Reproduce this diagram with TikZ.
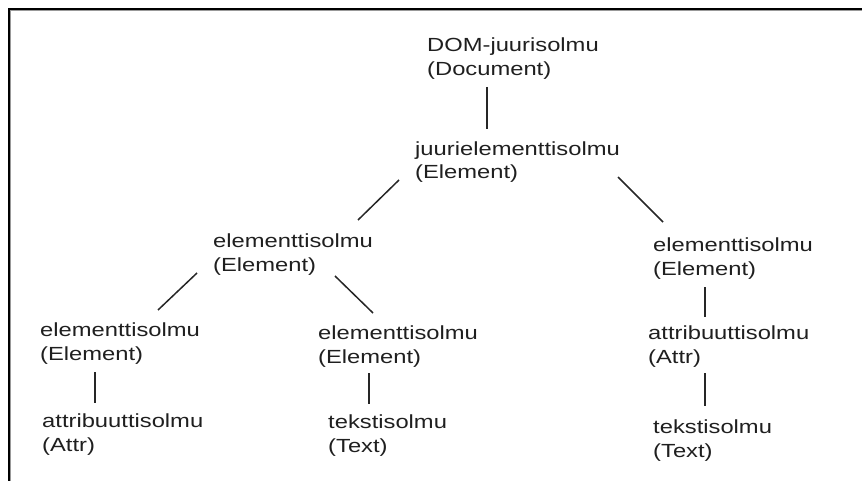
\documentclass[tikz,border=0pt]{standalone}
\usepackage{fontspec}
\setmainfont{Liberation Sans}[FakeStretch=1.25]
\begin{document}
\begin{tikzpicture}[x=1pt,y=-1pt,
  domnode/.style={anchor=base west, inner sep=0pt, align=left,
    font=\fontsize{19}{24}\selectfont, text=black!88},
  link/.style={line width=1.5pt, black!85}]
\useasboundingbox (0,0) rectangle (862,481);
% frame edges along the top and the left
\draw[black!40, line width=1pt] (10.5,481) -- (10.5,10.5) -- (862,10.5);
\draw[black, line width=2pt] (9,481) -- (9,9) -- (862,9);

% tree nodes (base west = left end of the last line's baseline)
\node[domnode] (dom)  at (427,76)  {DOM-juurisolmu\\(Document)};
\node[domnode] (root) at (415,179) {juurielementtisolmu\\(Element)};
\node[domnode] (elA)  at (213,271) {elementtisolmu\\(Element)};
\node[domnode] (elB)  at (653,275) {elementtisolmu\\(Element)};
\node[domnode] (elC)  at (40,360)  {elementtisolmu\\(Element)};
\node[domnode] (elD)  at (318,363) {elementtisolmu\\(Element)};
\node[domnode] (atB)  at (648,363) {attribuuttisolmu\\(Attr)};
\node[domnode] (atC)  at (42,451)  {attribuuttisolmu\\(Attr)};
\node[domnode] (txD)  at (328,452) {tekstisolmu\\(Text)};
\node[domnode] (txB)  at (653,457) {tekstisolmu\\(Text)};

% parent-child links
\draw[link] ([shift={(60,11)}]dom.base west)   -- ([shift={(72,-50)}]root.base west);
\draw[link] ([shift={(-16,1)}]root.base west)  -- ([shift={(145,-51)}]elA.base west);
\draw[link] ([shift={(203,-2)}]root.base west) -- ([shift={(10,-53)}]elB.base west);
\draw[link] ([shift={(-16,2)}]elA.base west)   -- ([shift={(118,-50)}]elC.base west);
\draw[link] ([shift={(122,5)}]elA.base west)   -- ([shift={(55,-50)}]elD.base west);
\draw[link] ([shift={(52,12)}]elB.base west)   -- ([shift={(57,-46)}]atB.base west);
\draw[link] ([shift={(57,10)}]atB.base west)   -- ([shift={(52,-51)}]txB.base west);
\draw[link] ([shift={(55,12)}]elC.base west)   -- ([shift={(53,-48)}]atC.base west);
\draw[link] ([shift={(51,10)}]elD.base west)   -- ([shift={(41,-48)}]txD.base west);
\end{tikzpicture}
\end{document}
